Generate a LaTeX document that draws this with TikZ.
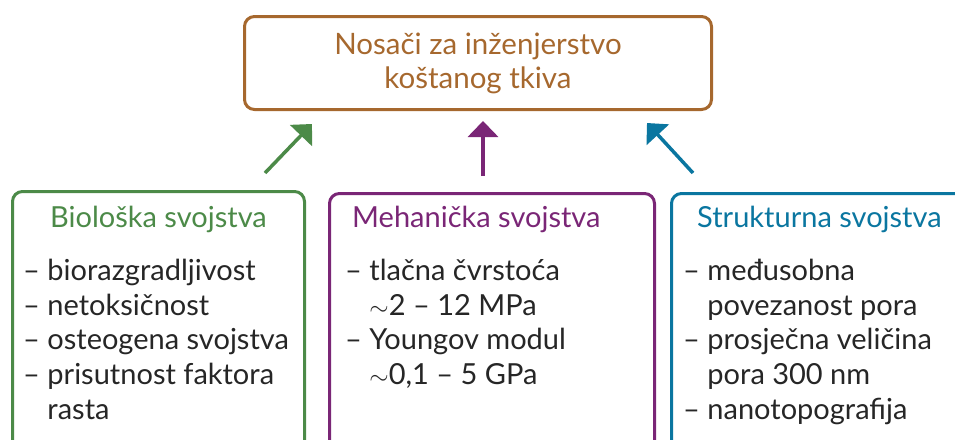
\documentclass[tikz,border=0pt]{standalone}
\usepackage{fontspec}
\setmainfont{Lato}
\usetikzlibrary{arrows.meta}
\definecolor{smeda}{RGB}{166,104,46}
\definecolor{zelena}{RGB}{76,138,72}
\definecolor{ljubicasta}{RGB}{122,38,118}
\definecolor{plava}{RGB}{10,118,160}
\tikzset{
	okvir/.style={draw, line width=3pt, rounded corners=10pt, anchor=north west, inner sep=0pt},
	naslov/.style={font=\fontsize{29}{34}\selectfont, anchor=base west, inner sep=0pt},
	stavka/.style={font=\fontsize{29}{34}\selectfont, anchor=base west, inner sep=0pt, text=black!85},
	strelica/.style={line width=3.5pt, -{Triangle[length=16pt,width=30pt]}}
}
\begin{document}
\begin{tikzpicture}[x=1pt,y=-1pt]
	\useasboundingbox (0,0) rectangle (955,439);
	\clip (0,0) rectangle (955,439);
	% glavni okvir
	\node[okvir, draw=smeda, minimum width=467pt, minimum height=93pt, align=center, text=smeda,
		font=\fontsize{29.5}{34}\selectfont] (nosaci) at (243,15) {Nosači za inženjerstvo\\koštanog tkiva};
	% okviri svojstava
	\node[okvir, draw=zelena, minimum width=292pt, minimum height=300pt] (bio) at (11,190) {};
	\node[okvir, draw=ljubicasta, minimum width=325pt, minimum height=300pt] (meh) at (328,192) {};
	\node[okvir, draw=plava, minimum width=320pt, minimum height=300pt] (str) at (670,192) {};
	\node[naslov, text=zelena] (bioN) at (50,227) {Biološka svojstva};
	\node[naslov, text=ljubicasta] (mehN) at (352,227) {Mehanička svojstva};
	\node[naslov, text=plava] (strN) at (697,227) {Strukturna svojstva};
	% stavke
	\foreach \t [count=\i] in {– biorazgradljivost, – netoksičnost, – osteogena svojstva,
		– prisutnost faktora, \phantom{– }rasta}
		\node[stavka] (bio\i) at (23,245.5+34.75*\i) {\t};
	\foreach \t [count=\i] in {– tlačna čvrstoća, {\phantom{– }$\sim$2 – 12 MPa}, – Youngov modul,
		{\phantom{– }$\sim$0,1 – 5 GPa}}
		\node[stavka] (meh\i) at (345,245.5+34.75*\i) {\t};
	\foreach \t [count=\i] in {– međusobna, \phantom{– }povezanost pora, – prosječna veličina,
		\phantom{– }pora 300 nm, – nanotopografija}
		\node[stavka] (str\i) at (683,245.5+34.75*\i) {\t};
	% strelice
	\coordinate (bioA) at (265,173);
	\coordinate (bioB) at (312,124);
	\coordinate (mehA) at (483,176);
	\coordinate (mehB) at (483,121);
	\coordinate (strA) at (693,173);
	\coordinate (strB) at (647,123);
	\draw[strelica, zelena] (bioA) -- (bioB);
	\draw[strelica, ljubicasta] (mehA) -- (mehB);
	\draw[strelica, plava] (strA) -- (strB);
\end{tikzpicture}
\end{document}
